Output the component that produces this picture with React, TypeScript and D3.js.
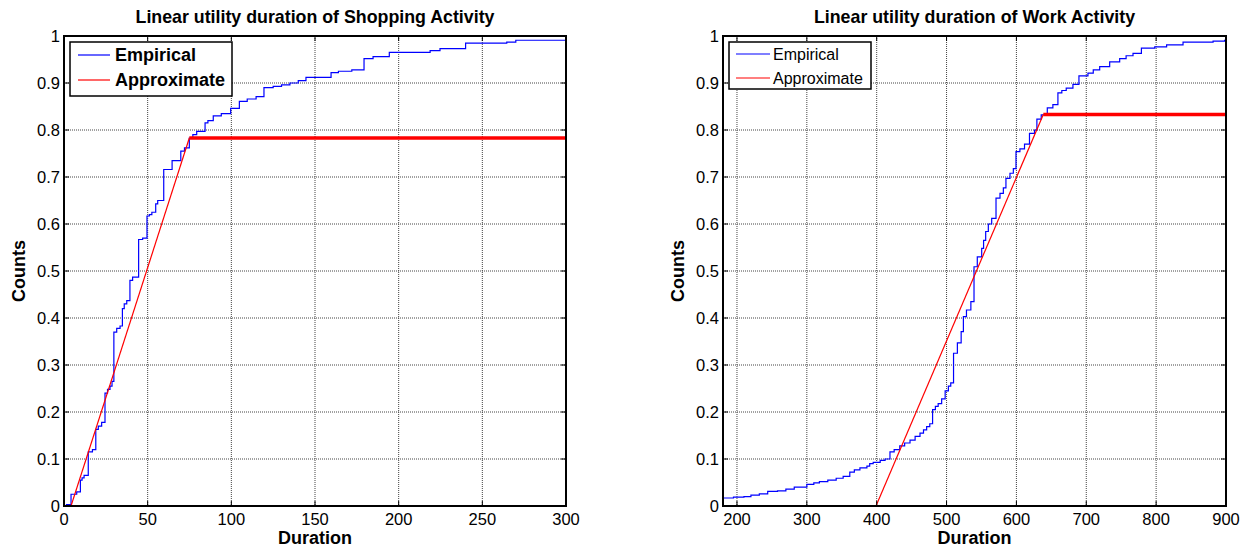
import React, { useEffect, useRef } from 'react';
import * as d3 from 'd3';

// empirical CDF steps, shopping activity (duration, cumulative share)
const shopDur = [0, 1.5, 4.2, 7.6, 9.8, 10.8, 12, 14.5, 17, 19, 20.5, 22.5, 24.5, 26, 27.5, 28.7, 29.8, 31.5, 33.5, 34.9, 36, 37.5, 39.4, 41, 44.6, 47, 49.6, 51, 52.5, 54.8, 56, 59.6, 64.6, 69.8, 72, 74.9, 77, 79.3, 84.3, 86, 89.2, 94, 99.6, 104.8, 109.5, 114.8, 119.5, 125, 130, 135, 140, 144.6, 159.6, 164, 172, 179.3, 184.7, 194.4, 218.8, 224.7, 240, 264.6, 270, 300];
const shopCdf = [0, 0.003, 0.025, 0.03, 0.055, 0.06, 0.065, 0.115, 0.12, 0.163, 0.17, 0.178, 0.24, 0.248, 0.255, 0.265, 0.37, 0.378, 0.383, 0.42, 0.43, 0.437, 0.48, 0.487, 0.567, 0.57, 0.617, 0.62, 0.625, 0.643, 0.65, 0.716, 0.735, 0.755, 0.762, 0.783, 0.79, 0.797, 0.815, 0.82, 0.83, 0.835, 0.846, 0.861, 0.866, 0.871, 0.89, 0.893, 0.896, 0.9, 0.905, 0.912, 0.922, 0.925, 0.928, 0.952, 0.956, 0.965, 0.969, 0.973, 0.985, 0.987, 0.991, 0.993];

// empirical CDF steps, work activity
const workDur = [180, 195, 210, 220, 232, 244, 258, 270, 282, 300, 310, 318, 330, 342, 352, 361.5, 368, 376, 386, 390, 395, 405, 412, 419, 425, 433, 440, 447.7, 455, 462, 467, 471.5, 476, 480, 484, 488, 493, 498, 502.6, 506, 510, 515.5, 520.9, 524.1, 528.5, 534.8, 539.3, 544, 550.3, 553, 556, 559.8, 564.6, 570.8, 576.5, 581.3, 585, 590.8, 595.6, 599.4, 605, 611.6, 618.7, 625.9, 629.3, 635.5, 644.2, 652.2, 659.4, 665, 671.3, 680.9, 689.5, 702.4, 710, 719.2, 733.5, 747.8, 757, 766.9, 778.9, 798, 815, 838.5, 881.5, 898, 900];
const workCdf = [0.017, 0.019, 0.02, 0.023, 0.026, 0.031, 0.032, 0.036, 0.04, 0.046, 0.049, 0.052, 0.055, 0.059, 0.063, 0.072, 0.077, 0.081, 0.085, 0.09, 0.093, 0.097, 0.1, 0.115, 0.12, 0.128, 0.134, 0.14, 0.148, 0.155, 0.162, 0.169, 0.175, 0.205, 0.212, 0.218, 0.228, 0.245, 0.255, 0.262, 0.325, 0.347, 0.371, 0.403, 0.417, 0.435, 0.509, 0.53, 0.548, 0.565, 0.584, 0.6, 0.612, 0.655, 0.665, 0.677, 0.697, 0.708, 0.718, 0.754, 0.76, 0.77, 0.793, 0.8, 0.823, 0.832, 0.847, 0.854, 0.879, 0.884, 0.889, 0.897, 0.915, 0.921, 0.928, 0.935, 0.945, 0.952, 0.958, 0.963, 0.974, 0.977, 0.981, 0.987, 0.989, 0.991, 0.991];

// linear approximation: ramp start, knee, plateau end
const shopApproxDur = [4.2, 74.9, 300];
const shopApproxCdf = [0, 0.783, 0.783];
const workApproxDur = [399, 638.5, 900];
const workApproxCdf = [0, 0.833, 0.833];

const shopTicksX = [0, 50, 100, 150, 200, 250, 300];
const workTicksX = [200, 300, 400, 500, 600, 700, 800, 900];
const ticksY = [0, 0.1, 0.2, 0.3, 0.4, 0.5, 0.6, 0.7, 0.8, 0.9, 1];

const legendLabels = ['Empirical', 'Approximate'];
const FONT = '"Liberation Sans", Arial, sans-serif';

type PanelProps = {
  id: string;
  title: string;
  left: number;
  width: number;
  xDomain: [number, number];
  xTicks: number[];
  dur: number[];
  cdf: number[];
  apDur: number[];
  apCdf: number[];
  legend: { w: number; h: number; bold: boolean; size: number; lineX: [number, number]; textX: number; rowY: number[] };
};

const Panel = (p: PanelProps) => {
  const ref = useRef<SVGGElement>(null);

  useEffect(() => {
    const top = 36, bottom = 506;
    const g = d3.select(ref.current);
    g.selectAll('*').remove();

    const x = d3.scaleLinear().domain(p.xDomain).range([p.left, p.left + p.width]);
    const y = d3.scaleLinear().domain([0, 1]).range([bottom, top]);
    const right = p.left + p.width;

    g.append('clipPath').attr('id', 'clip-' + p.id)
      .append('rect').attr('x', p.left).attr('y', top).attr('width', p.width).attr('height', bottom - top);

    // grid lines
    g.selectAll('.gx').data(p.xTicks.filter(t => t > p.xDomain[0] && t < p.xDomain[1])).enter().append('line')
      .attr('x1', d => x(d)).attr('x2', d => x(d)).attr('y1', top).attr('y2', bottom)
      .attr('stroke', '#444').attr('stroke-dasharray', '1,1').attr('stroke-width', 1);
    g.selectAll('.gy').data(ticksY.filter(t => t > 0 && t < 1)).enter().append('line')
      .attr('x1', p.left).attr('x2', right).attr('y1', d => y(d)).attr('y2', d => y(d))
      .attr('stroke', '#444').attr('stroke-dasharray', '1,1').attr('stroke-width', 1);

    const plot = g.append('g').attr('clip-path', `url(#clip-${p.id})`);

    // empirical step curve
    const pts = p.dur.map((d, i) => [d, p.cdf[i]] as [number, number]);
    const step = d3.line<[number, number]>().x(d => x(d[0])).y(d => y(d[1])).curve(d3.curveStepAfter);
    plot.append('path').attr('d', step(pts)).attr('fill', 'none').attr('stroke', '#0000ff').attr('stroke-width', 1.2);

    // approximation: thin ramp, thick plateau
    const line = d3.line<[number, number]>().x(d => x(d[0])).y(d => y(d[1]));
    const ramp: [number, number][] = [[p.apDur[0], p.apCdf[0]], [p.apDur[1], p.apCdf[1]]];
    const flat: [number, number][] = [[p.apDur[1], p.apCdf[1]], [p.apDur[2], p.apCdf[2]]];
    plot.append('path').attr('d', line(ramp)).attr('fill', 'none').attr('stroke', '#ff0000').attr('stroke-width', 1.2);
    plot.append('path').attr('d', line(flat)).attr('fill', 'none').attr('stroke', '#ff0000').attr('stroke-width', 3.5);

    // box
    g.append('rect').attr('x', p.left).attr('y', top).attr('width', p.width).attr('height', bottom - top)
      .attr('fill', 'none').attr('stroke', '#000').attr('stroke-width', 2);

    // inward ticks on all sides
    const tl = 5;
    p.xTicks.forEach(t => {
      g.append('line').attr('x1', x(t)).attr('x2', x(t)).attr('y1', bottom).attr('y2', bottom - tl).attr('stroke', '#000');
      g.append('line').attr('x1', x(t)).attr('x2', x(t)).attr('y1', top).attr('y2', top + tl).attr('stroke', '#000');
      g.append('text').attr('x', x(t)).attr('y', 525).attr('text-anchor', 'middle')
        .attr('font-family', FONT).attr('font-size', 16.5).text(t);
    });
    ticksY.forEach(t => {
      g.append('line').attr('x1', p.left).attr('x2', p.left + tl).attr('y1', y(t)).attr('y2', y(t)).attr('stroke', '#000');
      g.append('line').attr('x1', right).attr('x2', right - tl).attr('y1', y(t)).attr('y2', y(t)).attr('stroke', '#000');
      g.append('text').attr('x', p.left - 4).attr('y', y(t) + 6).attr('text-anchor', 'end')
        .attr('font-family', FONT).attr('font-size', 16.5).text(d3.format('~g')(t));
    });

    // title and axis labels
    g.append('text').attr('x', p.left + p.width / 2).attr('y', 23).attr('text-anchor', 'middle')
      .attr('font-family', FONT).attr('font-weight', 'bold').attr('font-size', 17.8).text(p.title);
    g.append('text').attr('x', p.left + p.width / 2).attr('y', 544).attr('text-anchor', 'middle')
      .attr('font-family', FONT).attr('font-weight', 'bold').attr('font-size', 18).text('Duration');
    g.append('text').attr('transform', `translate(${p.left - 39},${(top + bottom) / 2}) rotate(-90)`)
      .attr('text-anchor', 'middle').attr('font-family', FONT).attr('font-weight', 'bold').attr('font-size', 18).text('Counts');

    // legend
    const lg = p.legend;
    const lx = p.left + 6, ly = 42;
    g.append('rect').attr('x', lx).attr('y', ly).attr('width', lg.w).attr('height', lg.h)
      .attr('fill', '#fff').attr('stroke', '#000').attr('stroke-width', 1.5);
    legendLabels.forEach((name, i) => {
      g.append('line').attr('x1', lx + lg.lineX[0]).attr('x2', lx + lg.lineX[1])
        .attr('y1', ly + lg.rowY[i]).attr('y2', ly + lg.rowY[i])
        .attr('stroke', i === 0 ? '#0000ff' : '#ff0000').attr('stroke-width', 1.2);
      g.append('text').attr('x', lx + lg.textX).attr('y', ly + lg.rowY[i] + lg.size * 0.36)
        .attr('font-family', FONT).attr('font-weight', lg.bold ? 'bold' : 'normal')
        .attr('font-size', lg.size).text(name);
    });
  }, []);

  return <g ref={ref} />;
};

export default function App() {
  return (
    <svg width={1250} height={550} style={{ position: 'absolute', left: 0, top: 0, background: '#fff' }}>
      <Panel
        id="shop" title="Linear utility duration of Shopping Activity"
        left={64} width={502} xDomain={[0, 300]} xTicks={shopTicksX}
        dur={shopDur} cdf={shopCdf} apDur={shopApproxDur} apCdf={shopApproxCdf}
        legend={{ w: 162, h: 54, bold: true, size: 18, lineX: [8, 40], textX: 45, rowY: [13, 38] }}
      />
      <Panel
        id="work" title="Linear utility duration of Work Activity"
        left={723} width={503} xDomain={[180, 900]} xTicks={workTicksX}
        dur={workDur} cdf={workCdf} apDur={workApproxDur} apCdf={workApproxCdf}
        legend={{ w: 142, h: 47, bold: false, size: 16, lineX: [7, 41], textX: 44, rowY: [12, 36] }}
      />
    </svg>
  );
}
